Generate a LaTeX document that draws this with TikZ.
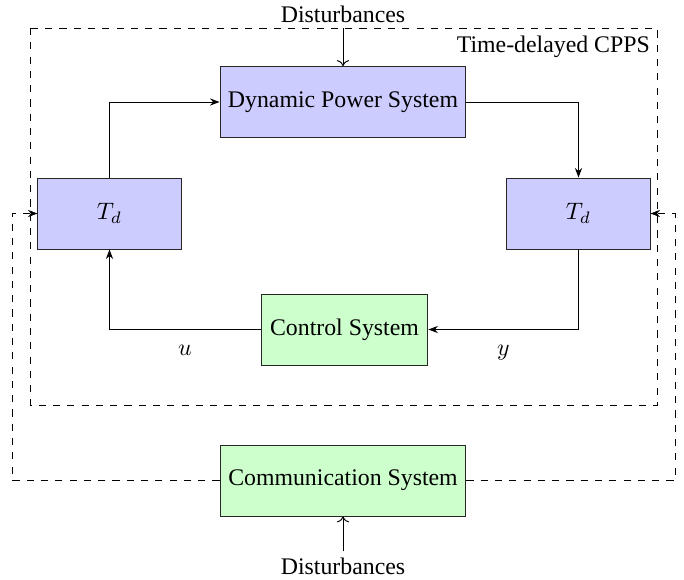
\documentclass[tikz,border=0pt]{standalone}
\usepackage{fontspec}
\setmainfont{Liberation Serif}
\usetikzlibrary{arrows.meta}
\begin{document}
\begin{tikzpicture}[x=0.42pt,y=-0.42pt,
  font=\fontsize{10}{12}\selectfont,
  blk/.style={draw=black!85,thin,minimum height=29.8pt,inner sep=0pt},
  bluebox/.style={blk,fill=blue!20},
  greenbox/.style={blk,fill=green!20},
  conn/.style={-{Stealth[length=4pt,width=3pt]},thin},
  dconn/.style={-{Stealth[length=4pt,width=3pt]},thin,dashed},
  plainarrow/.style={->,thin}]
\useasboundingbox (0,0) rectangle (684,580);
% nodes
\node[bluebox,minimum width=103.3pt] (dps) at (343,102) {Dynamic Power System};
\node[bluebox,minimum width=60.1pt] (tdl) at (109.5,213.5) {$T_d$};
\node[bluebox,minimum width=60.1pt] (tdr) at (578.5,213.5) {$T_d$};
\node[greenbox,minimum width=70.1pt] (ctrl) at (344.5,329.5) {Control System};
\node[greenbox,minimum width=103.3pt] (comm) at (343,480.5) {Communication System};
\node (disttop) at (343,14) {Disturbances};
\node (distbot) at (343,566) {Disturbances};
% dashed frame
\coordinate (fa) at (30,28);
\coordinate (fb) at (657,405);
\draw[dashed,thin] (fa) rectangle (fb);
\node[anchor=north east,inner sep=2pt] (cpps) at (655,31) {Time-delayed CPPS};
% disturbance arrows
\coordinate (dt) at (343,28);
\coordinate (db) at (343,551);
\draw[plainarrow] (dt) -- (dps.north);
\draw[plainarrow] (db) -- (comm.south);
% loop
\draw[conn] (tdl.north) |- (dps.west);
\draw[conn] (dps.east) -| (tdr.north);
\draw[conn] (tdr.south) |- (ctrl.east);
\draw[conn] (ctrl.west) -| (tdl.south);
\path (ctrl.west) -- (tdl.south |- ctrl.west) node[midway,below=3pt] (u) {$u$};
\path (ctrl.east) -- (tdr.south |- ctrl.east) node[midway,below=3pt] (y) {$y$};
% communication feedback
\coordinate (cl) at (12,480.5);
\coordinate (cr) at (675,480.5);
\draw[dconn] (comm.west) -- (cl) |- (tdl.west);
\draw[dconn] (comm.east) -- (cr) |- (tdr.east);
\end{tikzpicture}
\end{document}
